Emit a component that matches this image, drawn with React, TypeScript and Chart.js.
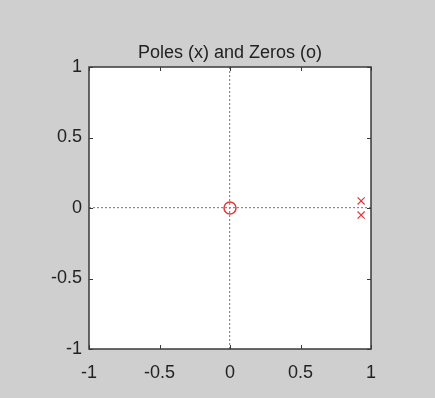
import React, { useEffect, useRef } from "react";
import { Chart, registerables } from "chart.js";

Chart.register(...registerables);

const titleText = "Poles (x) and Zeros (o)";
const axisMin = -1;
const axisMax = 1;
const tickStep = 0.5;
const zerosRe = [0];
const zerosIm = [0];
const polesRe = [0.93, 0.93];
const polesIm = [0.05, -0.05];

const BG = "#cfcfcf";
const FRAME = "#3a3a3a";
const RED = "#e0393e";
const FONT = "'Liberation Sans', Arial, Helvetica, sans-serif";

const fmt = (v: any) => String(Number(v));

const framePlugin = {
  id: "frame",
  beforeDraw(chart: any) {
    const { ctx, chartArea: a } = chart;
    ctx.save();
    ctx.fillStyle = "#ffffff";
    ctx.fillRect(a.left, a.top, a.right - a.left, a.bottom - a.top);
    ctx.restore();
  },
  afterDraw(chart: any) {
    const { ctx, chartArea: a, scales } = chart;
    ctx.save();
    ctx.strokeStyle = FRAME;
    ctx.lineWidth = 1;
    const len = 4;
    ctx.beginPath();
    scales.x.ticks.forEach((t: any) => {
      const px = Math.round(scales.x.getPixelForValue(t.value)) + 0.5;
      ctx.moveTo(px, a.bottom);
      ctx.lineTo(px, a.bottom - len);
      ctx.moveTo(px, a.top);
      ctx.lineTo(px, a.top + len);
    });
    scales.y.ticks.forEach((t: any) => {
      const py = Math.round(scales.y.getPixelForValue(t.value)) + 0.5;
      ctx.moveTo(a.left, py);
      ctx.lineTo(a.left + len, py);
      ctx.moveTo(a.right, py);
      ctx.lineTo(a.right - len, py);
    });
    ctx.stroke();
    ctx.lineWidth = 1.5;
    ctx.strokeRect(a.left, a.top, a.right - a.left, a.bottom - a.top);
    ctx.restore();
  },
};

export default function App() {
  const ref = useRef<HTMLCanvasElement | null>(null);
  useEffect(() => {
    if (!ref.current) return;
    const gridColor = (ctx: any) =>
      ctx.tick && ctx.tick.value === 0 ? "#8a8a8a" : "rgba(0,0,0,0)";
    const chart = new Chart(ref.current, {
      type: "scatter",
      data: {
        datasets: [
          {
            label: "Zeros",
            data: zerosRe.map((r, i) => ({ x: r, y: zerosIm[i] })),
            pointStyle: "circle",
            pointRadius: 6,
            pointBorderWidth: 1.5,
            borderColor: RED,
            backgroundColor: "rgba(0,0,0,0)",
          },
          {
            label: "Poles",
            data: polesRe.map((r, i) => ({ x: r, y: polesIm[i] })),
            pointStyle: "crossRot",
            pointRadius: 5,
            pointBorderWidth: 1.2,
            borderColor: RED,
            backgroundColor: RED,
          },
        ],
      },
      options: {
        responsive: false,
        animation: false,
        events: [],
        layout: { padding: { top: 0, right: 64, bottom: 0, left: 0 } },
        plugins: {
          legend: { display: false },
          tooltip: { enabled: false },
          title: {
            display: true,
            fullSize: false,
            text: titleText,
            color: "#222222",
            font: { family: FONT, size: 18, weight: "normal" },
            padding: { top: 42, bottom: 3.4 },
          },
        },
        scales: {
          x: {
            type: "linear",
            min: axisMin,
            max: axisMax,
            afterFit: (s: any) => {
              s.height = 49;
            },
            ticks: {
              stepSize: tickStep,
              color: "#222222",
              font: { family: FONT, size: 18 },
              padding: 13,
              maxRotation: 0,
              callback: fmt,
            },
            grid: {
              color: gridColor,
              lineWidth: 1.2,
              drawTicks: false,
            },
            border: { display: false, dash: [2, 2] },
          },
          y: {
            type: "linear",
            min: axisMin,
            max: axisMax,
            afterFit: (s: any) => {
              s.width = 89;
            },
            ticks: {
              stepSize: tickStep,
              color: "#222222",
              font: { family: FONT, size: 18 },
              padding: 7,
              callback: fmt,
            },
            grid: {
              color: gridColor,
              lineWidth: 1.2,
              drawTicks: false,
            },
            border: { display: false, dash: [2, 2] },
          },
        },
      },
      plugins: [framePlugin],
    });
    return () => chart.destroy();
  }, []);
  return (
    <div
      style={{
        position: "fixed",
        left: 0,
        top: 0,
        width: 435,
        height: 398,
        background: BG,
      }}
    >
      <canvas ref={ref} width={435} height={398} />
    </div>
  );
}
